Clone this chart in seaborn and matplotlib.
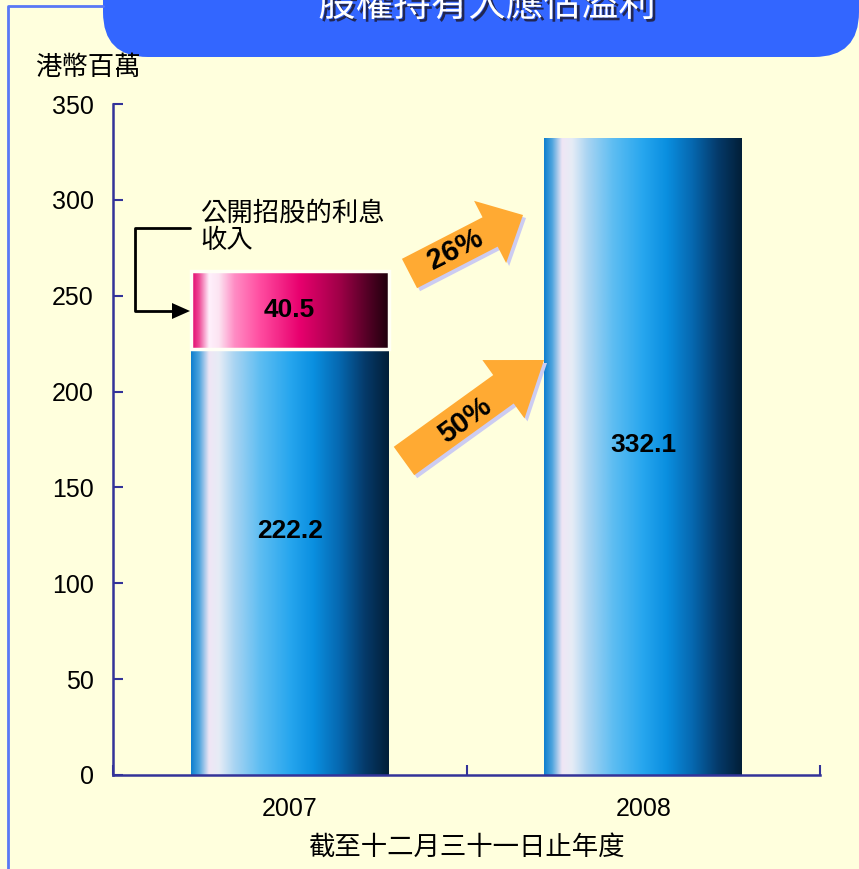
import matplotlib

matplotlib.use("Agg")
import matplotlib.patheffects as pe
import matplotlib.pyplot as plt
import numpy as np
import seaborn as sns
from matplotlib.colors import LinearSegmentedColormap
from matplotlib.lines import Line2D
from matplotlib.patches import FancyArrow, FancyBboxPatch, Polygon
from matplotlib.transforms import IdentityTransform

# data (HK$ million)
years = ["2007", "2008"]
profit_core = [222.2, 332.1]
ipo_interest = [40.5, 0.0]
growth_labels = ["26%", "50%"]
y_ticks = [0, 50, 100, 150, 200, 250, 300, 350]

title = "股權持有人應佔溢利"
y_unit = "港幣百萬"
x_title = "截至十二月三十一日止年度"
ipo_note = "公開招股的利息\n收入"

BG = "#FFFFDD"
NAVY = "#333399"
ORANGE = "#FFAA33"

sns.set_style("white")
plt.rcParams["font.family"] = ["Liberation Sans", "Noto Sans CJK TC", "DejaVu Sans"]
plt.rcParams["text.color"] = "black"
plt.rcParams["axes.labelcolor"] = "black"
plt.rcParams["xtick.color"] = "black"
plt.rcParams["ytick.color"] = "black"

blue_cmap = LinearSegmentedColormap.from_list(
    "bar_blue",
    [
        (0.0, "#0F7FCF"),
        (0.04, "#4FA5DE"),
        (0.09, "#F0E6F5"),
        (0.14, "#E6ECF6"),
        (0.22, "#A8D4F2"),
        (0.35, "#5DBDF2"),
        (0.5, "#27A6EE"),
        (0.62, "#0A8FE0"),
        (0.75, "#0668B0"),
        (0.88, "#053A6A"),
        (1.0, "#021F38"),
    ],
)
pink_cmap = LinearSegmentedColormap.from_list(
    "bar_pink",
    [
        (0.0, "#E0006A"),
        (0.04, "#EE4C98"),
        (0.09, "#FFF0FC"),
        (0.14, "#FCE4F2"),
        (0.22, "#FF8CC4"),
        (0.35, "#FF4CA0"),
        (0.55, "#E8006E"),
        (0.75, "#A00048"),
        (0.9, "#500024"),
        (1.0, "#1E000C"),
    ],
)

fig = plt.figure(figsize=(8.59, 8.69), dpi=100, facecolor=BG)
ax = fig.add_axes([113 / 859, 94 / 869, 707 / 859, 671 / 869])
ax.set_facecolor(BG)

sns.barplot(x=years, y=profit_core, width=0.56, color="#27A6EE", ax=ax)
n_core = len(ax.patches)
sns.barplot(x=years, y=ipo_interest, bottom=profit_core, width=0.56, color="#FF4CA0", ax=ax)

grad = np.linspace(0, 1, 256).reshape(1, -1)
for idx, patch in enumerate(ax.patches):
    if patch.get_height() <= 0:
        patch.set_visible(False)
        continue
    x0, y0 = patch.get_x(), patch.get_y()
    x1, y1 = x0 + patch.get_width(), y0 + patch.get_height()
    cmap = blue_cmap if idx < n_core else pink_cmap
    img = ax.imshow(grad, extent=(x0, x1, y0, y1), aspect="auto", cmap=cmap,
                    interpolation="bicubic", zorder=2)
    img.set_clip_path(patch)
    patch.set_facecolor("none")
    if idx >= n_core:
        patch.set_edgecolor("#FFFFF6")
        patch.set_linewidth(2.5)
        patch.set_zorder(3)
    else:
        patch.set_linewidth(0)

# value labels
label_frac = [0.572, 0.518]
for i, v in enumerate(profit_core):
    ax.text(i, v * label_frac[i], f"{v:.1f}", ha="center", va="center",
            fontsize=19, fontweight="bold", color="black", zorder=5)
for i, v in enumerate(ipo_interest):
    if v > 0:
        ax.text(i, profit_core[i] + v / 2, f"{v:.1f}", ha="center", va="center",
                fontsize=19, fontweight="bold", color="black", zorder=5)

ax.set_xlim(-0.5, 1.5)
ax.set_ylim(0, 350)
ax.set_yticks(y_ticks)
ax.set_xticks([0, 1])
ax.set_xticklabels(years)
ax.set_xticks([-0.5, 0.5, 1.5], minor=True)
ax.tick_params(axis="y", direction="in", length=7, width=1.5, color=NAVY,
               labelcolor="black", labelsize=18, pad=14, left=True)
ax.tick_params(axis="x", which="major", length=0, labelsize=18, pad=16,
               labelcolor="black")
ax.tick_params(axis="x", which="minor", direction="in", length=7, width=1.5,
               color=NAVY, bottom=True)
for side in ["top", "right"]:
    ax.spines[side].set_visible(False)
for side in ["left", "bottom"]:
    ax.spines[side].set_color(NAVY)
    ax.spines[side].set_linewidth(1.8)
ax.set_xlabel(x_title, fontsize=19, labelpad=10, color="black")
ax.set_ylabel("")

# decorations in pixel space
px = IdentityTransform()

# page frame
fig.add_artist(Line2D([8, 8, 103], [0, 863, 863], color="#5A78F5", lw=2, transform=px))

# title banner
banner = FancyBboxPatch((103, 812), 756, 120, boxstyle="round,pad=0,rounding_size=45",
                        facecolor="#3366FF", edgecolor="none", transform=px)
fig.add_artist(banner)
fig.text(487, 863, title, transform=px, ha="center", va="center", color="white",
         fontsize=27, path_effects=[pe.withSimplePatchShadow(offset=(2, -2),
                                                               shadow_rgbFace="#202040",
                                                               alpha=0.9)])

fig.text(35, 801, y_unit, transform=px, ha="left", va="center", fontsize=19)

# bracket pointing at the IPO interest block
fig.add_artist(Line2D([190, 135, 135, 174], [641, 641, 558, 558], color="black",
                      lw=2, transform=px))
fig.add_artist(Polygon([[190, 558], [172, 566], [172, 550]], closed=True,
                       facecolor="black", edgecolor="none", transform=px))
fig.text(200, 642, ipo_note, transform=px, ha="left", va="center", fontsize=19,
         linespacing=1.15)

# growth arrows: (tail x, tail y, tip x, tip y, body width, head width, head length)
arrow_geo = [
    (409.5, 595.5, 523, 654, 33, 70, 37),
    (404, 408, 544, 509, 35, 72, 50),
]
label_pos = [(455, 619, 27), (465, 449, 36)]
for (tx, ty, hx, hy, w, hw, hl), lab, (lx, ly, rot) in zip(arrow_geo, growth_labels, label_pos):
    for dx, dy, col in [(3, -3, "#CCCCF2"), (0, 0, ORANGE)]:
        fig.add_artist(FancyArrow(tx + dx, ty + dy, hx - tx, hy - ty, width=w,
                                  head_width=hw, head_length=hl,
                                  length_includes_head=True, facecolor=col,
                                  edgecolor="none", transform=px))
    fig.text(lx, ly, lab, transform=px, ha="center", va="center", rotation=rot,
             fontsize=21, fontweight="bold", rotation_mode="anchor")

fig.savefig("out.png", dpi=100, facecolor=BG)
